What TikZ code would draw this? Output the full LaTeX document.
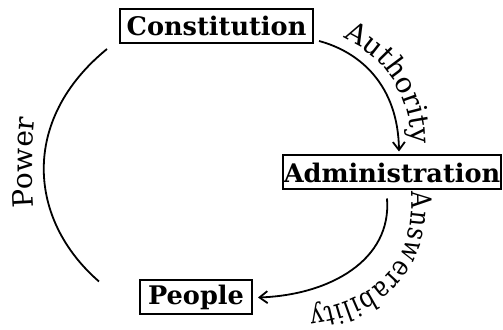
\documentclass[tikz,border=0pt]{standalone}
\usepackage{fontspec}
\setmainfont{DejaVu Serif}
\newfontfamily\narrowfamily[FakeStretch=0.85]{DejaVu Serif}
\usepackage{tikz}
\usetikzlibrary{arrows.meta,decorations.text}

\newcommand{\arclabelfont}{\fontsize{14}{16}\selectfont}
\newcommand{\narrowlabelfont}{\narrowfamily\fontsize{14}{16}\selectfont}

\tikzset{
	boxnode/.style={draw, line width=1pt, font=\fontsize{12.8}{15}\selectfont\bfseries, inner sep=0pt, minimum height=17pt},
	cycarc/.style={line width=0.9pt},
	cyctip/.style={-{Straight Barb[length=4pt,width=6pt]}},
	arclabel/.style={decorate, decoration={text along path, text align=fit to path, text={|\arclabelfont|#1}}},
	narrowlabel/.style={decorate, decoration={text along path, text align=fit to path, text={|\narrowlabelfont|#1}}},
}

\begin{document}
\begin{tikzpicture}[x=0.5pt,y=-0.5pt]
	\useasboundingbox (0,0) rectangle (503,330);

	% Draw boxes
	\node[boxnode, minimum width=96.5pt] (con) at (216.5,26) {Constitution};
	\node[boxnode, minimum width=109pt] (adm) at (392,172.5) {Administration};
	\node[boxnode, minimum width=56pt] (ppl) at (196,297.5) {People};

	% Power: people up to constitution
	\draw[cycarc] ([shift={(-40,2)}]ppl.north west) .. controls (28,220) and (20,120) .. ([shift={(-12,5)}]con.south west);
	\path[arclabel=Power] (34,208) .. controls (32,180) and (32,145) .. (35,118);

	% Authority: constitution down to administration
	\draw[cycarc, cyctip] ([shift={(5,-3)}]con.south east) .. controls (360,52) and (398,85) .. ([shift={(7,-3)}]adm.north);
	\path[arclabel=Authority] (343,38) .. controls (382,55) and (410,92) .. (411,142);

	% Answerability: administration round to people
	\draw[cycarc, cyctip] ([shift={(-5,8)}]adm.south) .. controls (392,260) and (330,295) .. ([shift={(5,0)}]ppl.east);
	\path[narrowlabel=Answerability] (411,192) .. controls (415,255) and (385,300) .. (309,310);

\end{tikzpicture}
\end{document}
